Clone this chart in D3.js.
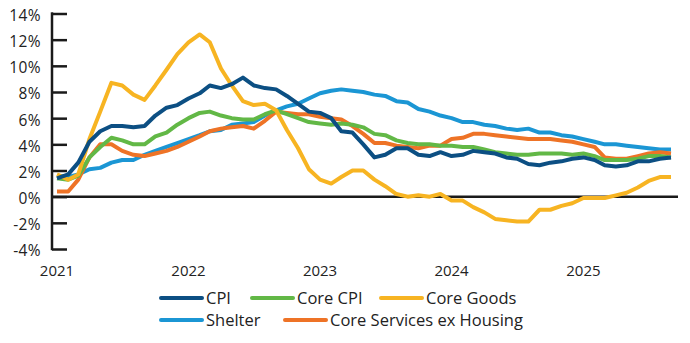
<!DOCTYPE html>
<html>
<head>
<meta charset="utf-8">
<script src="https://cdn.jsdelivr.net/npm/d3@7"></script>
<style>
  body { margin: 0; background: #fff; }
  text { font-family: "Open Sans", sans-serif; fill: #222; }
</style>
</head>
<body>
<svg id="chart" width="690" height="343"></svg>
<script>
// monthly year-over-year % change, Jan 2021 .. Sep 2025
const startMonth = new Date(2021, 0, 1);

const cpi = [
  1.4, 1.7, 2.6, 4.2, 5.0, 5.4, 5.4, 5.3, 5.4, 6.2, 6.8, 7.0,
  7.5, 7.9, 8.5, 8.3, 8.6, 9.1, 8.5, 8.3, 8.2, 7.7, 7.1, 6.5,
  6.4, 6.0, 5.0, 4.9, 4.0, 3.0, 3.2, 3.7, 3.7, 3.2, 3.1, 3.4,
  3.1, 3.2, 3.5, 3.4, 3.3, 3.0, 2.9, 2.5, 2.4, 2.6, 2.7, 2.9,
  3.0, 2.8, 2.4, 2.3, 2.4, 2.7, 2.7, 2.9, 3.0
];
const coreCpi = [
  1.4, 1.3, 1.6, 3.0, 3.8, 4.5, 4.3, 4.0, 4.0, 4.6, 4.9, 5.5,
  6.0, 6.4, 6.5, 6.2, 6.0, 5.9, 5.9, 6.3, 6.6, 6.3, 6.0, 5.7,
  5.6, 5.5, 5.6, 5.5, 5.3, 4.8, 4.7, 4.3, 4.1, 4.0, 4.0, 3.9,
  3.9, 3.8, 3.8, 3.6, 3.4, 3.3, 3.2, 3.2, 3.3, 3.3, 3.3, 3.2,
  3.3, 3.1, 2.8, 2.8, 2.8, 2.9, 3.1, 3.1, 3.0
];
const coreGoods = [
  1.7, 1.3, 1.7, 4.4, 6.5, 8.7, 8.5, 7.8, 7.4, 8.5, 9.7, 10.9,
  11.8, 12.4, 11.8, 9.8, 8.5, 7.3, 7.0, 7.1, 6.6, 5.1, 3.7, 2.1,
  1.3, 1.0, 1.5, 2.0, 2.0, 1.3, 0.8, 0.2, 0.0, 0.1, 0.0, 0.2,
  -0.3, -0.3, -0.8, -1.2, -1.7, -1.8, -1.9, -1.9, -1.0, -1.0, -0.7, -0.5,
  -0.1, -0.1, -0.1, 0.1, 0.3, 0.7, 1.2, 1.5, 1.5
];
const shelter = [
  1.6, 1.5, 1.7, 2.1, 2.2, 2.6, 2.8, 2.8, 3.2, 3.5, 3.8, 4.1,
  4.4, 4.7, 5.0, 5.1, 5.5, 5.6, 5.7, 6.2, 6.6, 6.9, 7.1, 7.5,
  7.9, 8.1, 8.2, 8.1, 8.0, 7.8, 7.7, 7.3, 7.2, 6.7, 6.5, 6.2,
  6.0, 5.7, 5.7, 5.5, 5.4, 5.2, 5.1, 5.2, 4.9, 4.9, 4.7, 4.6,
  4.4, 4.2, 4.0, 4.0, 3.9, 3.8, 3.7, 3.6, 3.6
];
const coreServicesExHousing = [
  0.4, 0.4, 1.3, 3.0, 4.0, 4.0, 3.5, 3.2, 3.1, 3.3, 3.5, 3.8,
  4.2, 4.6, 5.0, 5.2, 5.3, 5.4, 5.2, 5.8, 6.5, 6.4, 6.3, 6.3,
  6.1, 6.0, 5.9, 5.4, 4.8, 4.1, 4.1, 3.9, 3.8, 3.7, 3.9, 3.9,
  4.4, 4.5, 4.8, 4.8, 4.7, 4.6, 4.5, 4.4, 4.4, 4.4, 4.3, 4.2,
  4.0, 3.8, 3.0, 2.9, 2.9, 3.1, 3.3, 3.4, 3.3
];

const yTicks = [-4, -2, 0, 2, 4, 6, 8, 10, 12, 14];

// draw order: bottom first
const series = [
  { name: 'Shelter', values: shelter, color: '#1b96d4' },
  { name: 'Core Services ex Housing', values: coreServicesExHousing, color: '#ee7326' },
  { name: 'Core CPI', values: coreCpi, color: '#62b846' },
  { name: 'Core Goods', values: coreGoods, color: '#f7b422' },
  { name: 'CPI', values: cpi, color: '#0c4f83' }
];

const legendRows = [
  ['CPI', 'Core CPI', 'Core Goods'],
  ['Shelter', 'Core Services ex Housing']
];

const svg = d3.select('#chart');

const months = cpi.map((_, i) => d3.timeMonth.offset(startMonth, i));

const x = d3.scaleTime()
  .domain([months[0], months[months.length - 1]])
  .range([57, 671]);

const y = d3.scaleLinear()
  .domain([-4, 14])
  .range([249, 13.5]);

// y axis: ticks point inward (to the right)
const yAxis = svg.append('g')
  .attr('transform', 'translate(52,0)')
  .call(d3.axisRight(y).tickValues(yTicks).tickSize(15).tickFormat(''));
yAxis.select('.domain').remove();
yAxis.selectAll('.tick line').attr('stroke', '#1a1a1a').attr('stroke-width', 2.5);

svg.append('line')
  .attr('x1', 52).attr('x2', 52)
  .attr('y1', y(14) - 1.2).attr('y2', y(-4) + 1.2)
  .attr('stroke', '#1a1a1a').attr('stroke-width', 2.5);

svg.append('g').selectAll('text')
  .data(yTicks)
  .join('text')
  .attr('x', 41)
  .attr('y', d => y(d) + 2)
  .attr('dy', '0.35em')
  .attr('text-anchor', 'end')
  .style('font-size', '15.5px')
  .style('letter-spacing', '0.4px')
  .text(d => d + '%');

// x labels (years)
svg.append('g').selectAll('text')
  .data(x.ticks(d3.timeYear.every(1)))
  .join('text')
  .attr('x', d => x(d))
  .attr('y', 276)
  .attr('text-anchor', 'middle')
  .style('font-size', '15px')
  .text(d3.timeFormat('%Y'));

// zero line
svg.append('line')
  .attr('x1', 52).attr('x2', 678)
  .attr('y1', y(0)).attr('y2', y(0))
  .attr('stroke', '#1a1a1a').attr('stroke-width', 2.5);

const line = d3.line()
  .x((d, i) => x(months[i]))
  .y(d => y(d));

svg.append('g').selectAll('path')
  .data(series)
  .join('path')
  .attr('d', d => line(d.values))
  .attr('fill', 'none')
  .attr('stroke', d => d.color)
  .attr('stroke-width', 4)
  .attr('stroke-linejoin', 'round');

// legend
const colorOf = name => series.find(s => s.name === name).color;
const legendX = [[160, 251, 380], [160, 284]];
const legendY = [298, 320];

legendRows.forEach((row, r) => {
  row.forEach((name, c) => {
    const g = svg.append('g')
      .attr('transform', `translate(${legendX[r][c]},${legendY[r]})`);
    g.append('line')
      .attr('x1', 1).attr('x2', 42)
      .attr('stroke', colorOf(name))
      .attr('stroke-width', 4)
      .attr('stroke-linecap', 'round');
    g.append('text')
      .attr('x', 46)
      .attr('dy', '0.36em')
      .style('font-size', '16.5px')
      .text(name);
  });
});
</script>
</body>
</html>
